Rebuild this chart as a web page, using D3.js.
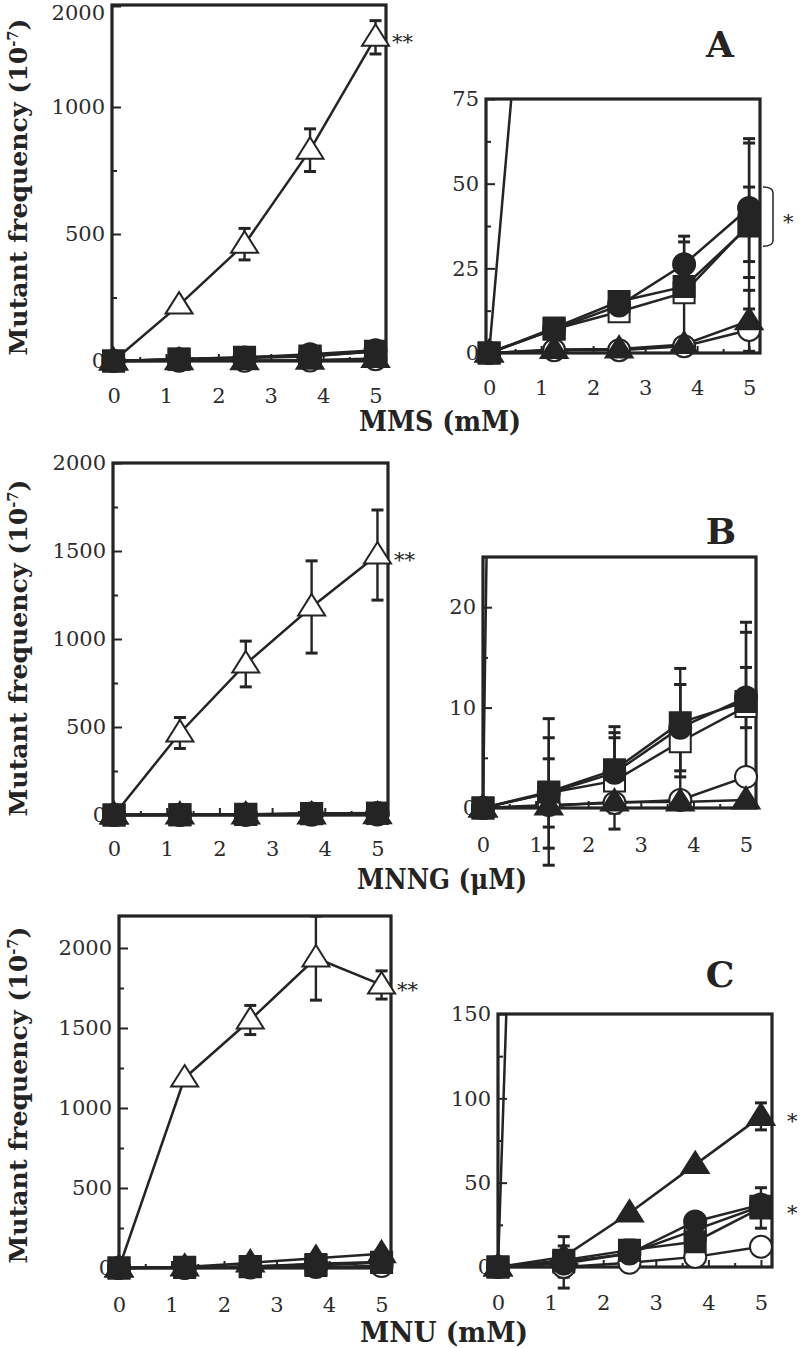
<!DOCTYPE html>
<html><head><meta charset="utf-8">
<script src="https://cdn.jsdelivr.net/npm/d3@7"></script>
<style>body{margin:0;background:#fff}svg{display:block}</style>
</head><body><svg id="c" width="800" height="1348"></svg>
<script>
// ---------------- data ----------------
const doses = [0, 1.25, 2.5, 3.75, 5];
const xTickValues = [0, 1, 2, 3, 4, 5];
const xMinorTicks = [0.5, 1.5, 2.5, 3.5, 4.5];

// A: MMS (mM)
const mmsOpenTriangle = [0, 220, 460, 830, 1690];
const mmsOpenTriangleErr = [0, 0, 62, 84, 165];
const mmsOpenCircle = [0, 0.8, 0.8, 2, 6.8];
const mmsOpenCircleErr = [0, 0, 0, 0, 0];
const mmsFilledTriangle = [0, 1, 1.2, 2.5, 9.5];
const mmsFilledTriangleErr = [0, 0, 0, 0, 9];
const mmsOpenSquare = [0, 7, 12.2, 17.8, 38];
const mmsOpenSquareErr = [0, 0, 0, 15, 11];
const mmsFilledCircle = [0, 7, 14, 26.2, 42.8];
const mmsFilledCircleErr = [0, 0, 0, 8.3, 20.5];
const mmsFilledSquare = [0, 7.4, 15.2, 19.6, 37.5];
const mmsFilledSquareErr = [0, 0, 0, 0, 24.5];
const mmsMainTicks = [0, 500, 1000, 2000];
const mmsMainMinor = [250, 750];
const mmsInsetTicks = [0, 25, 50, 75];
const mmsInsetMinor = [12.5, 37.5, 62.5];
const mmsBracket = [31.5, 49];

// B: MNNG (uM)
const mnngOpenTriangle = [0, 466, 858, 1182, 1477];
const mnngOpenTriangleErr = [0, 88, 130, 262, 256];
const mnngOpenCircle = [0, 0.3, 0.5, 0.8, 3.1];
const mnngOpenCircleErr = [0, 0, 0, 0, 0];
const mnngFilledTriangle = [0, 0.2, 0.6, 0.6, 0.8];
const mnngFilledTriangleErr = [0, 0, 0, 0, 0];
const mnngOpenSquare = [0, 1.5, 2.7, 6.6, 10.1];
const mnngOpenSquareErr = [0, 5.5, 4.8, 5.7, 7.4];
const mnngFilledCircle = [0, 1.5, 3.5, 8, 11];
const mnngFilledCircleErr = [0, 3.4, 3.5, 4.3, 3];
const mnngFilledSquare = [0, 1.6, 3.8, 8.5, 10.6];
const mnngFilledSquareErr = [0, 7.3, 4.3, 5.4, 7.9];
const mnngMainTicks = [0, 500, 1000, 1500, 2000];
const mnngMainMinor = [250, 750, 1250, 1750];
const mnngInsetTicks = [0, 10, 20];
const mnngInsetMinor = [5, 15];

// C: MNU (mM)
const mnuOpenTriangle = [0, 1187, 1550, 1937, 1769];
const mnuOpenTriangleErr = [0, 0, 91, 263, 88];
const mnuOpenCircle = [0, 0, 2.5, 6, 12];
const mnuOpenCircleErr = [0, 12.5, 0, 0, 0];
const mnuFilledTriangle = [0, 6, 32, 60.7, 89.3];
const mnuFilledTriangleErr = [0, 12, 0, 0, 8];
const mnuOpenSquare = [0, 3, 8, 22, 36];
const mnuOpenSquareErr = [0, 0, 0, 0, 0];
const mnuFilledCircle = [0, 2, 8, 27, 37];
const mnuFilledCircleErr = [0, 0, 0, 0, 0];
const mnuFilledSquare = [0, 4, 10, 15, 35];
const mnuFilledSquareErr = [0, 0, 6, 0, 12];
const mnuMainTicks = [0, 500, 1000, 1500, 2000];
const mnuMainMinor = [250, 750, 1250, 1750];
const mnuInsetTicks = [0, 50, 100, 150];
const mnuInsetMinor = [25, 75, 125];
const mnuStarred = ["filledTriangle", "filledSquare"];

// ---------------- styles ----------------
const INK = "#242424";
const seriesOrder = ["openTriangle", "openSquare", "openCircle", "filledTriangle", "filledCircle", "filledSquare"];
const seriesStyle = {
  openTriangle: {shape: "triangle", filled: false},
  openCircle: {shape: "circle", filled: false},
  filledTriangle: {shape: "triangle", filled: true},
  openSquare: {shape: "square", filled: false},
  filledCircle: {shape: "circle", filled: true},
  filledSquare: {shape: "square", filled: true}
};

const rows = [
  {
    id: "A", title: "MMS (mM)", titleX: 440, titleY: 431, titleLen: 162,
    letterX: 720, letterY: 57, yTitleY: 187,
    series: {
      openTriangle: [mmsOpenTriangle, mmsOpenTriangleErr], openCircle: [mmsOpenCircle, mmsOpenCircleErr],
      filledTriangle: [mmsFilledTriangle, mmsFilledTriangleErr], openSquare: [mmsOpenSquare, mmsOpenSquareErr],
      filledCircle: [mmsFilledCircle, mmsFilledCircleErr], filledSquare: [mmsFilledSquare, mmsFilledSquareErr]
    },
    main: {left: 112, right: 386, top: 5, bottom: 361, xDomain: [-0.03, 5.2],
           yDomain: [0, 1000, 2000], yRange: [361, 107, 6], ticks: mmsMainTicks, minor: mmsMainMinor, xPad: 27},
    inset: {left: 486, right: 760, top: 99, bottom: 353, xDomain: [-0.06, 5.21],
            yDomain: [0, 75], yRange: [353, 99], ticks: mmsInsetTicks, minor: mmsInsetMinor, xPad: 27},
    bracket: mmsBracket
  },
  {
    id: "B", title: "MNNG (μM)", titleX: 442, titleY: 889, titleLen: 170,
    letterX: 721, letterY: 544, yTitleY: 648,
    series: {
      openTriangle: [mnngOpenTriangle, mnngOpenTriangleErr], openCircle: [mnngOpenCircle, mnngOpenCircleErr],
      filledTriangle: [mnngFilledTriangle, mnngFilledTriangleErr], openSquare: [mnngOpenSquare, mnngOpenSquareErr],
      filledCircle: [mnngFilledCircle, mnngFilledCircleErr], filledSquare: [mnngFilledSquare, mnngFilledSquareErr]
    },
    main: {left: 113, right: 388, top: 463, bottom: 815, xDomain: [-0.02, 5.2],
           yDomain: [0, 2000], yRange: [815, 463], ticks: mnngMainTicks, minor: mnngMainMinor, xPad: 26},
    inset: {left: 483, right: 756, top: 557, bottom: 808, xDomain: [0, 5.19],
            yDomain: [0, 25], yRange: [808, 557], ticks: mnngInsetTicks, minor: mnngInsetMinor, xPad: 29}
  },
  {
    id: "C", title: "MNU (mM)", titleX: 444, titleY: 1342, titleLen: 168,
    letterX: 720, letterY: 987, yTitleY: 1095,
    series: {
      openTriangle: [mnuOpenTriangle, mnuOpenTriangleErr], openCircle: [mnuOpenCircle, mnuOpenCircleErr],
      filledTriangle: [mnuFilledTriangle, mnuFilledTriangleErr], openSquare: [mnuOpenSquare, mnuOpenSquareErr],
      filledCircle: [mnuFilledCircle, mnuFilledCircleErr], filledSquare: [mnuFilledSquare, mnuFilledSquareErr]
    },
    main: {left: 119, right: 391, top: 916, bottom: 1268, xDomain: [0, 5.18],
           yDomain: [0, 2200], yRange: [1268, 916], ticks: mnuMainTicks, minor: mnuMainMinor, xPad: 29},
    inset: {left: 498, right: 772, top: 1014, bottom: 1267, xDomain: [0, 5.21],
            yDomain: [0, 150], yRange: [1267, 1014], ticks: mnuInsetTicks, minor: mnuInsetMinor, xPad: 28},
    starred: mnuStarred
  }
];

// ---------------- drawing ----------------
const svg = d3.select("#c");
const defs = svg.append("defs");
const FONT = "'DejaVu Serif', 'Liberation Serif', serif";

function markerPath(shape) {
  if (shape === "square") return "M-10.5,-10.5H10.5V10.5H-10.5Z";
  if (shape === "triangle") return "M0,-13L13.5,8.5L-13.5,8.5Z";
  return d3.arc()({innerRadius: 0, outerRadius: 11, startAngle: 0, endAngle: 2 * Math.PI});
}

function drawPanel(row, p, kind) {
  const g = svg.append("g");
  const x = d3.scaleLinear().domain(p.xDomain).range([p.left, p.right]);
  const y = d3.scaleLinear().domain(p.yDomain).range(p.yRange);
  const yMax = p.yDomain[p.yDomain.length - 1];
  const clipId = "clip-" + row.id + kind;
  defs.append("clipPath").attr("id", clipId).append("rect")
    .attr("x", p.left - 40).attr("y", p.top)
    .attr("width", p.right - p.left + 80).attr("height", p.bottom - p.top + 120);

  // y axis (inward ticks)
  const gy = g.append("g").attr("transform", `translate(${p.left},0)`)
    .call(d3.axisLeft(y).tickValues(p.ticks).tickSize(-9).tickPadding(7).tickFormat(d3.format("d")));
  gy.selectAll(".tick").each(function(d) {
    const ty = y(d);
    if (ty < 13) d3.select(this).select("text").attr("y", 13 - ty);
  });
  const gym = g.append("g").attr("transform", `translate(${p.left},0)`)
    .call(d3.axisLeft(y).tickValues(p.minor).tickSize(-5).tickFormat(""));
  // x axis (inward ticks)
  const gx = g.append("g").attr("transform", `translate(0,${p.bottom})`)
    .call(d3.axisBottom(x).tickValues(xTickValues).tickSize(-7).tickPadding(p.xPad).tickFormat(d3.format("d")));
  const gxm = g.append("g").attr("transform", `translate(0,${p.bottom})`)
    .call(d3.axisBottom(x).tickValues(xMinorTicks).tickSize(-4).tickFormat(""));
  [gy, gym, gx, gxm].forEach(a => {
    a.select(".domain").remove();
    a.selectAll(".tick line").attr("stroke", INK).attr("stroke-width", 2);
    a.selectAll(".tick text").attr("font-family", FONT).attr("font-size", 21).attr("fill", "#2c2c2c");
  });

  // frame
  g.append("rect").attr("x", p.left).attr("y", p.top)
    .attr("width", p.right - p.left).attr("height", p.bottom - p.top)
    .attr("fill", "none").attr("stroke", INK).attr("stroke-width", 3.2);

  const line = d3.line().x((d, i) => x(doses[i])).y(d => y(d));
  const lines = g.append("g").attr("clip-path", `url(#${clipId})`);
  seriesOrder.forEach(k => {
    lines.append("path").datum(row.series[k][0]).attr("d", line)
      .attr("fill", "none").attr("stroke", INK).attr("stroke-width", 2.5);
  });
  // error bars
  const errs = g.append("g").attr("clip-path", `url(#${clipId})`)
    .attr("stroke", INK).attr("stroke-width", 2.4);
  seriesOrder.forEach(k => {
    const [vals, err] = row.series[k];
    vals.forEach((v, i) => {
      if (!err[i]) return;
      const cx = x(doses[i]), y1 = y(v + err[i]), y0 = y(v - err[i]);
      errs.append("line").attr("x1", cx).attr("x2", cx).attr("y1", y1).attr("y2", y0);
      errs.append("line").attr("x1", cx - 6).attr("x2", cx + 6).attr("y1", y1).attr("y2", y1).attr("stroke-width", 3);
      errs.append("line").attr("x1", cx - 6).attr("x2", cx + 6).attr("y1", y0).attr("y2", y0).attr("stroke-width", 3);
    });
  });
  // markers
  seriesOrder.forEach(k => {
    const st = seriesStyle[k];
    const vals = row.series[k][0];
    g.append("g").selectAll("path")
      .data(vals.map((v, i) => ({v, d: doses[i]})).filter(o => o.v <= yMax))
      .join("path")
      .attr("d", markerPath(st.shape))
      .attr("transform", o => `translate(${x(o.d)},${y(o.v)})`)
      .attr("fill", st.filled ? INK : "#fff")
      .attr("stroke", INK).attr("stroke-width", 2);
  });

  // annotations
  if (kind === "main") {
    const last = row.series.openTriangle[0][doses.length - 1];
    g.append("text").attr("x", p.right + 6).attr("y", y(last) + 12)
      .attr("font-family", FONT).attr("font-size", 21).attr("fill", INK).text("**");
  } else {
    if (row.bracket) {
      const [b0, b1] = row.bracket;
      const bx = p.right + 3, ya = y(b1), yb = y(b0);
      g.append("path")
        .attr("d", `M${bx},${ya} Q${bx + 10},${ya} ${bx + 10},${ya + 6} L${bx + 10},${yb - 6} Q${bx + 10},${yb} ${bx},${yb}`)
        .attr("fill", "none").attr("stroke", INK).attr("stroke-width", 1.5);
      g.append("text").attr("x", bx + 20).attr("y", (ya + yb) / 2 + 12)
        .attr("font-family", FONT).attr("font-size", 21).attr("fill", INK).text("*");
    }
    if (row.starred) {
      row.starred.forEach(k => {
        const vals = row.series[k][0];
        g.append("text").attr("x", p.right + 15).attr("y", y(vals[vals.length - 1]) + 12)
          .attr("font-family", FONT).attr("font-size", 21).attr("fill", INK).text("*");
      });
    }
  }
}

rows.forEach(row => {
  drawPanel(row, row.main, "main");
  drawPanel(row, row.inset, "inset");
  // x title
  svg.append("text").attr("x", row.titleX).attr("y", row.titleY)
    .attr("text-anchor", "middle").attr("font-family", FONT).attr("font-weight", "bold")
    .attr("font-size", 27).attr("fill", INK)
    .attr("textLength", row.titleLen).attr("lengthAdjust", "spacingAndGlyphs")
    .text(row.title);
  // panel letter
  svg.append("text").attr("x", row.letterX).attr("y", row.letterY)
    .attr("text-anchor", "middle").attr("font-family", FONT).attr("font-weight", "bold")
    .attr("font-size", 36).attr("fill", INK).text(row.id);
  // y title
  const yt = svg.append("text")
    .attr("transform", `translate(27,${row.yTitleY}) rotate(-90)`)
    .attr("text-anchor", "middle").attr("font-family", FONT).attr("font-weight", "bold")
    .attr("font-size", 24).attr("fill", INK)
    .attr("textLength", 337).attr("lengthAdjust", "spacingAndGlyphs");
  yt.append("tspan").text("Mutant frequency (10");
  yt.append("tspan").attr("font-size", 14).attr("dy", -9).text("-7");
  yt.append("tspan").attr("dy", 9).text(")");
});
</script></body></html>
